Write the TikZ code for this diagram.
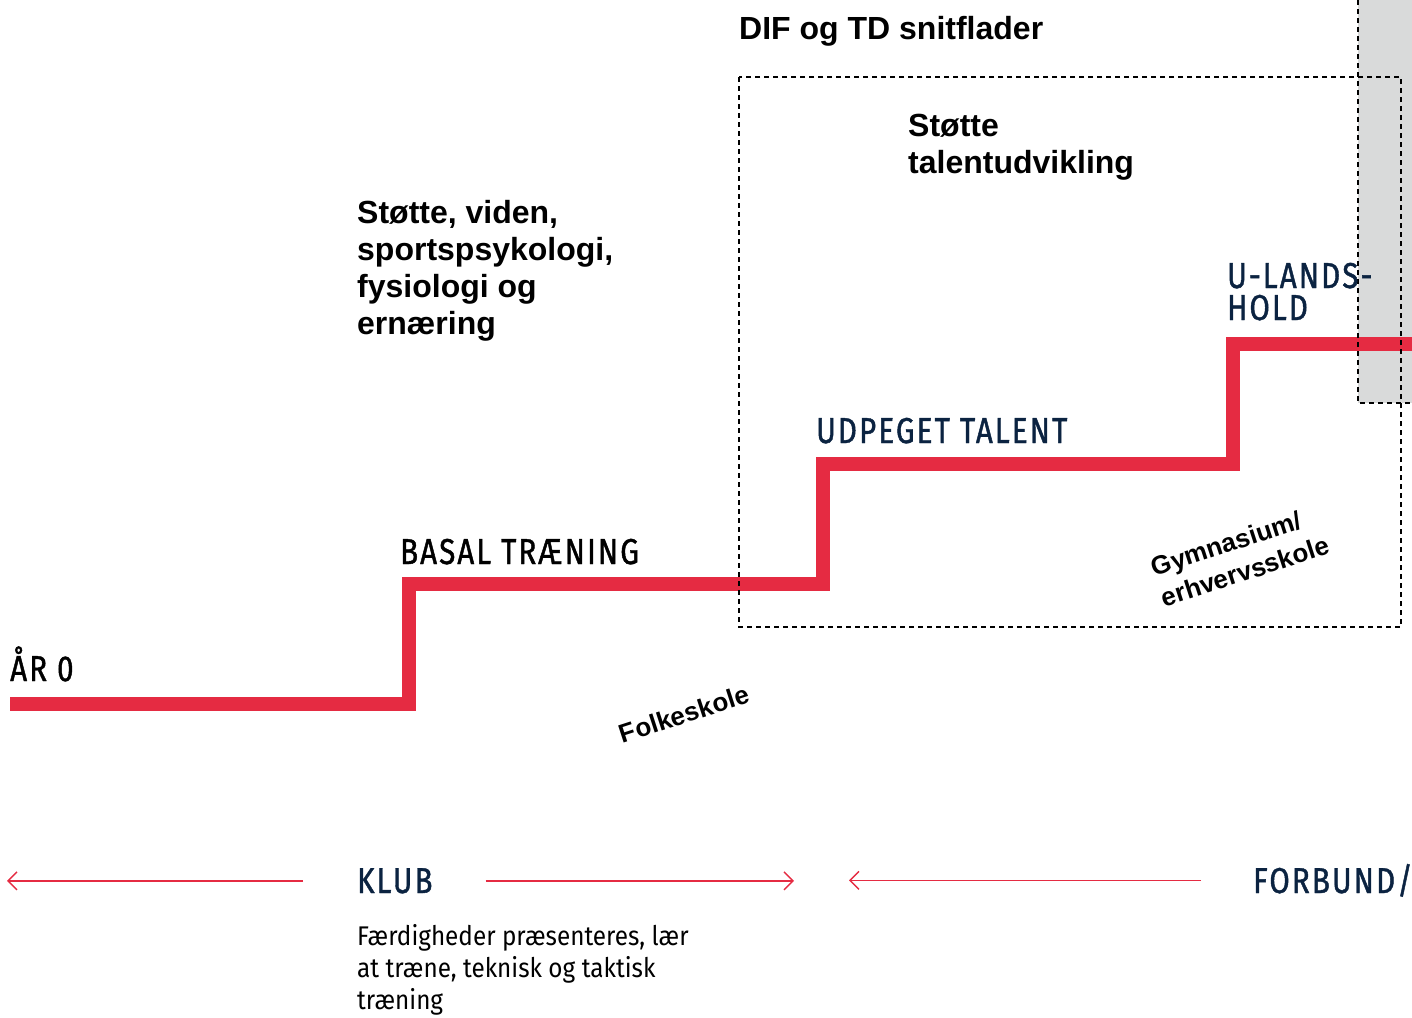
\documentclass[tikz,border=0pt]{standalone}
\usepackage{fontspec}
\setmainfont{Liberation Sans}
\newfontfamily\dinfont[FakeStretch=0.82,LetterSpace=6,FakeBold=1.2]{Fira Sans}
\newfontfamily\bodyfont[FakeStretch=0.9]{Fira Sans}
\usetikzlibrary{arrows.meta}

\definecolor{difred}{HTML}{E52B42}
\definecolor{difnavy}{HTML}{0B2341}
\definecolor{difgrey}{HTML}{D9DADA}

\tikzset{
	stagetext/.style={font=\dinfont\fontsize{36}{32}\selectfont, anchor=base west, inner sep=0pt},
	headtext/.style={font=\bfseries\fontsize{32}{37}\selectfont, anchor=base west, inner sep=0pt},
	schooltext/.style={font=\bfseries\fontsize{26}{32}\selectfont, inner sep=0pt, rotate=18},
	bodytext/.style={font=\bodyfont\fontsize{27}{32}\selectfont, anchor=base west, inner sep=0pt},
	stairs/.style={draw=difred, line width=14pt, miter limit=10},
	timeline/.style={draw=difred, line width=1.4pt, -{Straight Barb[length=9pt,width=18pt]}},
	dashbox/.style={draw=black, line width=1.1pt, dash pattern=on 5pt off 4pt}
}

\begin{document}
\begin{tikzpicture}[x=1pt, y=-1pt]
	\useasboundingbox (0,0) rectangle (1412,1017);

	% grey band at the right edge
	\fill[difgrey] (1358,0) rectangle (1412,403);

	% the staircase
	\draw[stairs] (10,704) -- (409,704) -- (409,584) -- (823,584) -- (823,464)
		-- (1233,464) -- (1233,344) -- (1412,344);

	% dashed areas
	\draw[dashbox] (1358,0) -- (1358,403) -- (1412,403);
	\draw[dashbox] (739,77) rectangle (1401,627);

	% stages (multi-line nodes sit on their last line)
	\node[stagetext] (ar) at (10,681) {ÅR 0};
	\node[stagetext] (basal) at (400,564) {BASAL TRÆNING};
	\node[stagetext, difnavy] (udpeget) at (816,443) {UDPEGET TALENT};
	\node[stagetext, difnavy, align=left] (ulands) at (1227,320) {U-LANDS-\\HOLD};

	% support texts
	\node[headtext] (dif) at (739,39) {DIF og TD snitflader};
	\node[headtext, align=left] (talent) at (908,173) {Støtte\\talentudvikling};
	\node[headtext, align=left] (viden) at (357,334) {Støtte, viden,\\sportspsykologi,\\fysiologi og\\ernæring};

	% schools
	\node[schooltext] (folkeskole) at (684,714) {Folkeskole};
	\node[schooltext, align=left] (gymnasium) at (1240,556) {Gymnasium/\\erhvervsskole};

	% bottom timeline
	\node[stagetext, difnavy] (klub) at (357,893) {KLUB};
	\node[stagetext, difnavy] (forbund) at (1253,893) {FORBUND/};
	\coordinate (klubleft) at (7,880);
	\coordinate (klubright) at (794,880);
	\coordinate (forbundleft) at (849,880);
	\draw[timeline] ([xshift=-54pt]klub.west) -- (klubleft |- klub.west);
	\draw[timeline] ([xshift=53pt]klub.east) -- (klubright |- klub.east);
	\draw[timeline] ([xshift=-52pt]forbund.west) -- (forbundleft |- forbund.west);

	\node[bodytext, align=left] (skills) at (357,1009) {Færdigheder præsenteres, lær\\at træne, teknisk og taktisk\\træning};
\end{tikzpicture}
\end{document}
